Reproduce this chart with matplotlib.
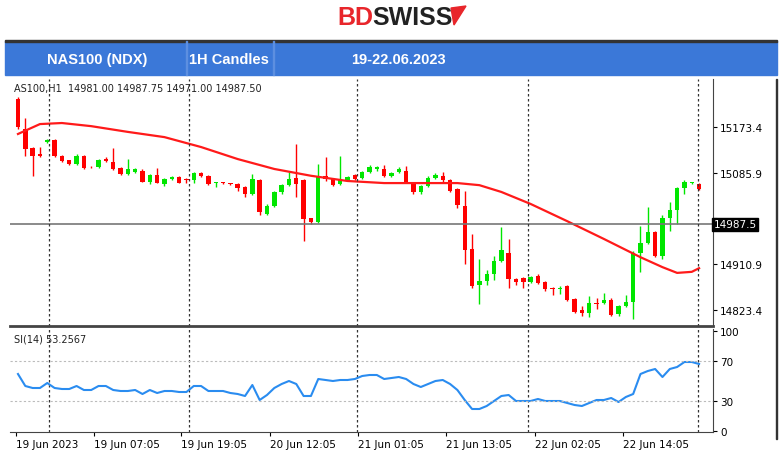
import matplotlib
matplotlib.use("Agg")
import matplotlib.pyplot as plt
from matplotlib.patches import Rectangle, Polygon
import numpy as np

opens = [15227,15170,15133,15122,15145,15148,15118,15110,15103,15118,15097,15096,15112,15106,15094,15083,15087,15090,15069,15082,
         15065,15074,15078,15074,15071,15085,15080,15066,15067,15065,15064,15058,15045,15072,15007,15023,15048,15062,15075,15071,
         14999,14992,15080,15074,15065,15072,15081,15075,15088,15092,15093,15080,15087,15090,15067,15048,15061,15076,15080,15071,
         15055,15023,14940,14870,14879,14892,14917,14933,14882,14885,14876,14888,14876,14866,14863,14868,14844,14822,14818,14837,
         14836,14843,14815,14831,14839,14933,14951,14972,14926,15000,15015,15056,15066,15064]
closes = [15173,15131,15118,15117,15148,15118,15109,15103,15117,15094,15096,15111,15108,15093,15083,15092,15093,15069,15082,15067,
          15074,15078,15067,15071,15085,15080,15064,15067,15066,15064,15056,15045,15074,15010,15023,15048,15062,15074,15064,14997,
          14992,15080,15073,15062,15072,15078,15074,15088,15096,15096,15080,15085,15093,15067,15048,15061,15076,15082,15071,15051,
          15024,14937,14868,14879,14892,14917,14937,14882,14876,14877,14887,14875,14864,14863,14866,14843,14820,14818,14836,14835,
          14843,14813,14831,14839,14933,14951,14972,14926,15000,15015,15056,15069,15067,15054]
highs = [15230,15190,15135,15136,15150,15150,15120,15111,15121,15120,15099,15113,15115,15134,15096,15112,15095,15092,15084,15094,
         15076,15080,15080,15076,15087,15087,15082,15068,15068,15066,15066,15060,15083,15074,15025,15050,15064,15087,15141,15073,
         15000,15103,15115,15076,15118,15080,15083,15090,15100,15098,15101,15087,15096,15098,15069,15063,15080,15085,15088,15073,
         15057,15051,14968,14921,14900,14927,14981,14959,14884,14887,14889,14892,14878,14867,14868,14870,14846,14830,14850,14845,
         14856,14845,14833,14852,14935,14984,15020,14974,15004,15029,15058,15071,15068,15066]
lows = [15170,15118,15080,15115,15143,15116,15106,15101,15101,15092,15094,15094,15106,15091,15081,15081,15085,15068,15064,15066,
        15060,15072,15066,15066,15066,15078,15062,15058,15064,15062,15050,15040,15043,15005,15005,15021,15046,15060,15039,14956,
        14988,14990,15070,15060,15062,15070,15072,15073,15086,15090,15078,15078,15085,15066,15046,15046,15059,15074,15069,15049,
        15018,14911,14865,14834,14870,14880,14915,14866,14870,14866,14874,14872,14860,14852,14854,14841,14818,14812,14810,14825,
        14834,14811,14812,14829,14806,14895,14949,14924,14920,14975,14988,15045,15065,15052]
ma_idx = [0,3,6,10,15,20,25,30,35,40,45,50,55,60,63,66,70,75,80,85,88,90,92,93]
ma_val = [15160,15179,15181,15175,15164,15154,15135,15112,15093,15080,15070,15066,15066,15066,15062,15049,15026,14993,14959,14924,14905,14894,14896,14903]
rsi = [57,45,43,43,48,43,42,42,45,41,41,45,45,41,40,40,41,37,41,38,40,40,39,39,45,45,40,40,40,38,
       37,35,46,31,36,43,47,50,47,35,35,52,51,50,51,51,52,55,56,56,52,53,54,52,47,44,47,50,51,47,
       41,31,22,22,25,30,35,36,30,30,30,32,30,30,30,28,26,25,28,31,31,33,29,34,37,57,60,62,54,62,
       64,69,69,67]
price_ticks = [15173.4, 15085.9, 14998.4, 14910.9, 14823.4]
price_labels = ["15173.4", "15085.9", "", "14910.9", "14823.4"]
last_price = 14987.5
rsi_ticks = [100, 70, 30, 0]
sep_pos = [4.2, 23.4, 46.3, 69.7, 92.8]
xtick_pos = [-0.3, 10.4, 22.3, 34.4, 46.4, 58.5, 70.6, 82.6]
xtick_labels = ["19 Jun 2023", "19 Jun 07:05", "19 Jun 19:05", "20 Jun 12:05", "21 Jun 01:05",
                "21 Jun 13:05", "22 Jun 02:05", "22 Jun 14:05"]

W, H = 780, 477
fig = plt.figure(figsize=(W/100, H/100), dpi=100)
fig.patch.set_facecolor("white")

def fx(x): return x / W
def fy(y): return 1 - y / H

# logo
fig.text(fx(373), fy(18), "BD", color="#e8262b", fontsize=18, fontweight="bold", ha="right", va="center", family="Liberation Sans")
fig.text(fx(372), fy(18), "SWISS", color="#222222", fontsize=18, fontweight="bold", ha="left", va="center", family="Liberation Sans")
fig.patches.append(Polygon([[fx(451), fy(9)], [fx(466), fy(7)], [fx(454), fy(26)]], closed=True,
                           color="#e8262b", transform=fig.transFigure))

# header band
fig.patches.append(Rectangle((fx(5), fy(76)), fx(772), 34/H, color="#3b78d8", transform=fig.transFigure))
fig.patches.append(Rectangle((fx(5), fy(43)), fx(772), 2/H, color="#333333", transform=fig.transFigure))
for xd in [186, 273]:
    fig.patches.append(Rectangle((fx(xd), fy(76)), 1/W, 34/H, color="#5d8fe0", transform=fig.transFigure))
for txt, xc in [("NAS100 (NDX)", 97), ("1H Candles", 229), ("19-22.06.2023", 398)]:
    fig.text(fx(xc), fy(60), txt, color="white", fontsize=10.5, fontweight="bold", ha="center", va="center", family="Liberation Sans")

ax = fig.add_axes([fx(10), fy(327), 703/W, 247/H])
ax2 = fig.add_axes([fx(10), fy(433), 703/W, 103/H])

n = len(opens)
idx = np.arange(n)
o = np.array(opens); c = np.array(closes)
cols = np.where(c >= o, "#00e600", "#ff0000")
ax.vlines(idx, lows, highs, colors=cols, linewidth=1)
bh = np.abs(c - o); bh = np.maximum(bh, 1.5)
ax.bar(idx, bh, bottom=np.minimum(o, c), width=0.6, color=cols, linewidth=0)
ax.plot(ma_idx, ma_val, color="#ff1a1a", linewidth=1.6)
ax.axhline(last_price, color="#777777", linewidth=1.2)
xl = (-1.09, 94.9)
ax.set_xlim(*xl)
ax.set_ylim(14792.3, 15265.3)
ax.yaxis.tick_right()
ax.set_yticks(price_ticks)
ax.set_yticklabels(price_labels, fontsize=7.5)
ax.set_xticks([])
ax.text(95.0, last_price, f"{last_price:.1f}", transform=ax.transData, fontsize=7.5,
        color="white", va="center", ha="left", bbox=dict(boxstyle="square,pad=0.15", fc="black", ec="black"), clip_on=False)
ax.text(0.005, 0.985, "AS100,H1  14981.00 14987.75 14971.00 14987.50", transform=ax.transAxes,
        fontsize=7, va="top", ha="left", color="#222222")
for s in sep_pos:
    ax.axvline(s, color="#333333", linestyle=(0, (2, 2)), linewidth=0.9)
    ax2.axvline(s, color="#333333", linestyle=(0, (2, 2)), linewidth=0.9)

ax2.plot(idx, rsi, color="#2a8cf0", linewidth=1.5)
ax2.set_xlim(*xl)
ax2.set_ylim(-1, 102)
for lv in [70, 30]:
    ax2.axhline(lv, color="#bbbbbb", linestyle=(0, (2, 2)), linewidth=0.8)
ax2.yaxis.tick_right()
ax2.set_yticks(rsi_ticks)
ax2.set_yticklabels([str(t) for t in rsi_ticks], fontsize=7.5)
ax2.set_xticks(xtick_pos)
ax2.set_xticklabels(xtick_labels, fontsize=7.5, ha="left")
ax2.tick_params(axis="x", length=3, pad=2)
ax2.text(0.005, 0.96, "SI(14) 53.2567", transform=ax2.transAxes, fontsize=7, va="top", ha="left", color="#222222")

for a in (ax, ax2):
    for sp in ["top", "left"]:
        a.spines[sp].set_visible(False)
    a.spines["bottom"].set_color("#444444")
    a.spines["right"].set_color("#444444")
    a.tick_params(axis="y", length=3, pad=2)
ax.spines["bottom"].set_linewidth(2)

fig.patches.append(Rectangle((fx(776), fy(440)), 1/W, 360/H, color="#333333", transform=fig.transFigure))

fig.savefig("out.png", dpi=100)
